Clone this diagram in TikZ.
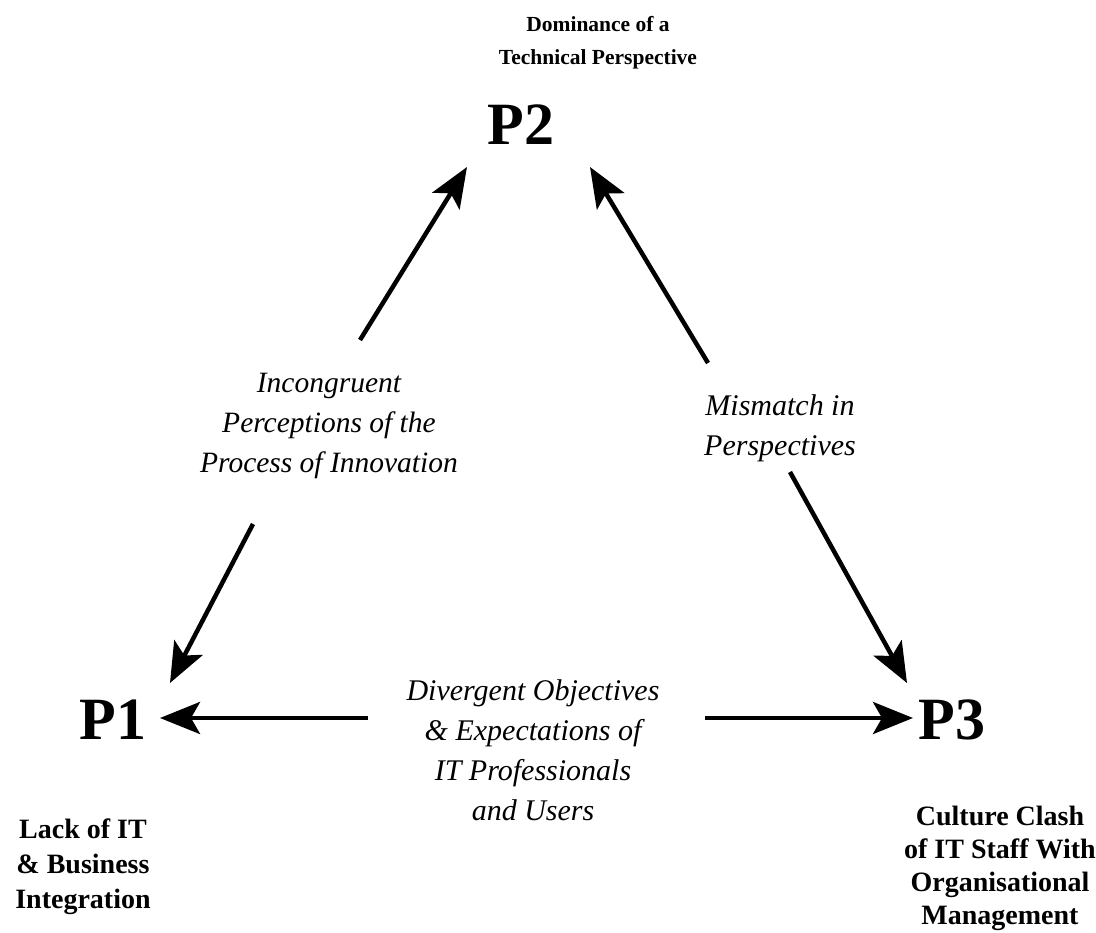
\documentclass[tikz,border=0pt]{standalone}
\usepackage{fontspec}
\setmainfont{Liberation Serif}
\usetikzlibrary{arrows.meta}
\begin{document}
\begin{tikzpicture}[x=1pt,y=-1pt,
  pnode/.style={font=\fontsize{60}{60}\selectfont\bfseries, inner sep=0pt},
  toplabel/.style={font=\fontsize{21.5}{33}\selectfont\bfseries, align=center, inner sep=0pt},
  botlabel/.style={font=\fontsize{28}{35}\selectfont\bfseries, align=center, inner sep=0pt},
  linklabel/.style={font=\fontsize{30}{40}\selectfont\itshape, align=center, inner sep=0pt},
  link/.style={line width=4.5pt, -{Stealth[length=40pt, width=32pt, inset=9pt]}}]
\useasboundingbox (0,0) rectangle (1096,933);

% the three problem areas
\node[pnode] (p2) at (521,125) {P2};
\node[pnode] (p1) at (113,720) {P1};
\node[pnode] (p3) at (952,720) {P3};

\node[toplabel] (p2lab) at (598,43) {Dominance of a\\Technical Perspective};
\node[botlabel] (p1lab) at (83,867) {Lack of IT\\\& Business\\Integration};
\node[botlabel, font=\fontsize{28}{33}\selectfont\bfseries] (p3lab) at (1000,868) {Culture Clash\\of IT Staff With\\Organisational\\Management};

% labels on the links
\node[linklabel, font=\fontsize{29.5}{40}\selectfont\itshape] (l12) at (329,426) {Incongruent\\Perceptions of the\\Process of Innovation};
\node[linklabel] (l23) at (780,428) {Mismatch in\\Perspectives};
\node[linklabel] (l13) at (533,750) {Divergent Objectives\\\& Expectations of\\IT Professionals\\and Users};

% arrow end points
\coordinate (a1s) at (360,340);  \coordinate (a1e) at (467,167);
\coordinate (a2s) at (708,363);  \coordinate (a2e) at (590,167);
\coordinate (a3s) at (253,524);  \coordinate (a3e) at (170,683);
\coordinate (a4s) at (790,472);  \coordinate (a4e) at (907,683);
\coordinate (a5s) at (368,718);  \coordinate (a5e) at (160,718);
\coordinate (a6s) at (705,718);  \coordinate (a6e) at (913,718);

\draw[link] (a1s) -- (a1e);
\draw[link] (a2s) -- (a2e);
\draw[link] (a3s) -- (a3e);
\draw[link] (a4s) -- (a4e);
\draw[link] (a5s) -- (a5e);
\draw[link] (a6s) -- (a6e);
\end{tikzpicture}
\end{document}
